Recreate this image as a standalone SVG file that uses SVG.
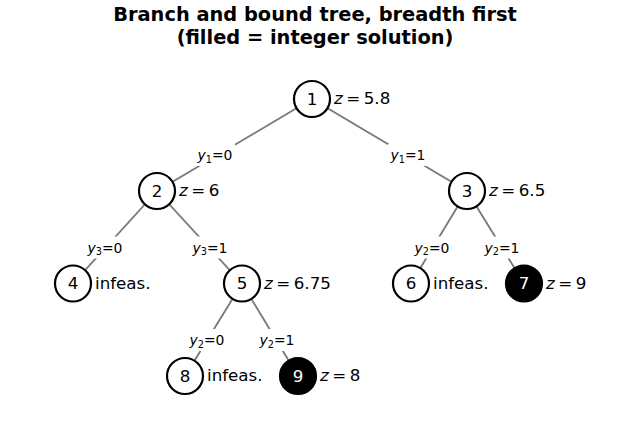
<svg xmlns="http://www.w3.org/2000/svg" width="630" height="427" viewBox="0 0 630 427">
<style>
  .title { font-family: "DejaVu Sans", sans-serif; font-weight: bold; font-size: 19.4px; text-anchor: middle; fill: #000; }
  .edge { stroke: #777777; stroke-width: 1.8; fill: none; }
  .lblbox { fill: #ffffff; stroke: none; }
  .elbl { font-family: "DejaVu Sans", sans-serif; font-size: 13.9px; text-anchor: middle; fill: #000; }
  .sub { font-size: 9.7px; }
  .it { font-style: italic; }
  .node { stroke: #000; stroke-width: 2.2; }
  .open { fill: #ffffff; }
  .int { fill: #000000; }
  .num { font-family: "DejaVu Sans", sans-serif; font-size: 16.7px; text-anchor: middle; }
  .numdark { fill: #000; }
  .numlight { fill: #fff; }
  .side { font-family: "DejaVu Sans", sans-serif; font-size: 16.7px; fill: #000; }
</style>
<rect width="630" height="427" fill="#ffffff"/>
<text class="title" x="315" y="21">Branch and bound tree, breadth first</text>
<text class="title" x="315" y="44">(filled = integer solution)</text>

<g id="connectors">
  <line class="edge" x1="312" y1="99" x2="157" y2="191"/>
  <line class="edge" x1="312" y1="99" x2="467" y2="191"/>
  <line class="edge" x1="157" y1="191" x2="73" y2="283.5"/>
  <line class="edge" x1="157" y1="191" x2="242" y2="283.5"/>
  <line class="edge" x1="467" y1="191" x2="411" y2="283.5"/>
  <line class="edge" x1="467" y1="191" x2="524" y2="283.5"/>
  <line class="edge" x1="242" y1="283.5" x2="185" y2="376"/>
  <line class="edge" x1="242" y1="283.5" x2="298" y2="376"/>

  <rect class="lblbox" x="195" y="144" width="40" height="22"/>
  <text class="elbl" x="215" y="160"><tspan class="it">y</tspan><tspan class="sub" dy="2.5">1</tspan><tspan dy="-2.5">=0</tspan></text>
  <rect class="lblbox" x="388" y="144" width="40" height="22"/>
  <text class="elbl" x="408" y="160"><tspan class="it">y</tspan><tspan class="sub" dy="2.5">1</tspan><tspan dy="-2.5">=1</tspan></text>

  <rect class="lblbox" x="85" y="236.5" width="40" height="22"/>
  <text class="elbl" x="105" y="252.5"><tspan class="it">y</tspan><tspan class="sub" dy="2.5">3</tspan><tspan dy="-2.5">=0</tspan></text>
  <rect class="lblbox" x="190" y="236.5" width="40" height="22"/>
  <text class="elbl" x="210" y="252.5"><tspan class="it">y</tspan><tspan class="sub" dy="2.5">3</tspan><tspan dy="-2.5">=1</tspan></text>
  <rect class="lblbox" x="412" y="236.5" width="40" height="22"/>
  <text class="elbl" x="432" y="252.5"><tspan class="it">y</tspan><tspan class="sub" dy="2.5">2</tspan><tspan dy="-2.5">=0</tspan></text>
  <rect class="lblbox" x="482" y="236.5" width="40" height="22"/>
  <text class="elbl" x="502" y="252.5"><tspan class="it">y</tspan><tspan class="sub" dy="2.5">2</tspan><tspan dy="-2.5">=1</tspan></text>

  <rect class="lblbox" x="187" y="329" width="40" height="22"/>
  <text class="elbl" x="207" y="345"><tspan class="it">y</tspan><tspan class="sub" dy="2.5">2</tspan><tspan dy="-2.5">=0</tspan></text>
  <rect class="lblbox" x="257" y="329" width="40" height="22"/>
  <text class="elbl" x="277" y="345"><tspan class="it">y</tspan><tspan class="sub" dy="2.5">2</tspan><tspan dy="-2.5">=1</tspan></text>
</g>

<g id="node1">
  <circle class="node open" cx="312" cy="99" r="18"/>
  <text class="num numdark" x="312" y="104.5">1</text>
  <text class="side" x="334" y="104"><tspan class="it">z</tspan><tspan dx="3.5">=</tspan><tspan dx="3.5">5.8</tspan></text>
</g>
<g id="node2">
  <circle class="node open" cx="157" cy="191" r="18"/>
  <text class="num numdark" x="157" y="196.5">2</text>
  <text class="side" x="179" y="196"><tspan class="it">z</tspan><tspan dx="3.5">=</tspan><tspan dx="3.5">6</tspan></text>
</g>
<g id="node3">
  <circle class="node open" cx="467" cy="191" r="18"/>
  <text class="num numdark" x="467" y="196.5">3</text>
  <text class="side" x="489" y="196"><tspan class="it">z</tspan><tspan dx="3.5">=</tspan><tspan dx="3.5">6.5</tspan></text>
</g>
<g id="node4">
  <circle class="node open" cx="73" cy="283.5" r="18"/>
  <text class="num numdark" x="73" y="289">4</text>
  <text class="side" x="95" y="288.5">infeas.</text>
</g>
<g id="node5">
  <circle class="node open" cx="242" cy="283.5" r="18"/>
  <text class="num numdark" x="242" y="289">5</text>
  <text class="side" x="264" y="288.5"><tspan class="it">z</tspan><tspan dx="3.5">=</tspan><tspan dx="3.5">6.75</tspan></text>
</g>
<g id="node6">
  <circle class="node open" cx="411" cy="283.5" r="18"/>
  <text class="num numdark" x="411" y="289">6</text>
  <text class="side" x="433" y="288.5">infeas.</text>
</g>
<g id="node7">
  <circle class="node int" cx="524" cy="283.5" r="18"/>
  <text class="num numlight" x="524" y="289">7</text>
  <text class="side" x="546" y="288.5"><tspan class="it">z</tspan><tspan dx="3.5">=</tspan><tspan dx="3.5">9</tspan></text>
</g>
<g id="node8">
  <circle class="node open" cx="185" cy="376" r="18"/>
  <text class="num numdark" x="185" y="381.5">8</text>
  <text class="side" x="207" y="381">infeas.</text>
</g>
<g id="node9">
  <circle class="node int" cx="298" cy="376" r="18"/>
  <text class="num numlight" x="298" y="381.5">9</text>
  <text class="side" x="320" y="381"><tspan class="it">z</tspan><tspan dx="3.5">=</tspan><tspan dx="3.5">8</tspan></text>
</g>
</svg>
